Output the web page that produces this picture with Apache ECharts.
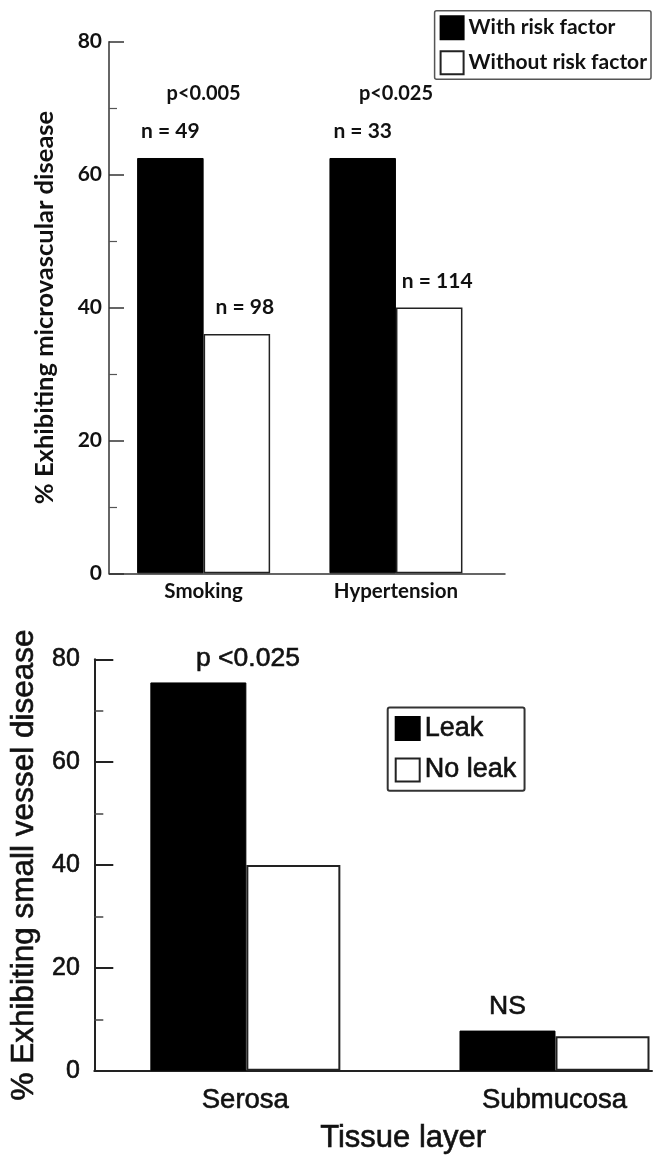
<!DOCTYPE html>
<html><head><meta charset="utf-8">
<script src="https://cdn.jsdelivr.net/npm/echarts@6/dist/echarts.min.js"></script>
<style>html,body{margin:0;padding:0;background:#fff}#c{width:654px;height:1159px}</style>
</head><body><div id="c"></div>
<script>
// ---- Top panel data ----
const topCategories = ['Smoking', 'Hypertension'];
const topWithRisk = [62.5, 62.5];
const topWithoutRisk = [36, 40];
const topNWith = ['n = 49', 'n = 33'];
const topNWithout = ['n = 98', 'n = 114'];
const topPValues = ['p<0.005', 'p<0.025'];
const topPLevel = 72.2;           // height (in % units) where the p-values are written
const topYTicks = [0, 20, 40, 60, 80];

// ---- Bottom panel data ----
const bottomCategories = ['Serosa', 'Submucosa'];
const bottomLeak = [75.5, 7.8];
const bottomNoLeak = [40, 6.7];
const bottomSig = ['p <0.025', 'NS'];
const bottomYTicks = [0, 20, 40, 60, 80];

const TOPF = 'Lato';
const BOTF = '"Liberation Sans", Arial, sans-serif';
const INK = '#111';
const thick = {textBorderColor: INK, textBorderWidth: 0.6};

const chart = echarts.init(document.getElementById('c'), null, {renderer: 'canvas'});

const xy = (arr) => arr.map((v, i) => [i + 1, v]);

const option = {
  backgroundColor: '#fff',
  animation: false,
  grid: [
    {left: 109, top: 41.7, width: 396, height: 531.6},
    {left: 94.3, top: 659.3, width: 557.7, height: 411.4}
  ],
  legend: [
    {
      data: ['With risk factor', 'Without risk factor'],
      orient: 'vertical', left: 434.6, top: 10.7,
      itemWidth: 23, itemHeight: 23, itemGap: 10, itemTextGap: 6,
      padding: [4.5, 4, 4, 5],
      borderColor: '#555', borderWidth: 1.5, borderRadius: 2,
      icon: 'rect',
      textStyle: {fontFamily: TOPF, fontWeight: 'bold', fontSize: 21, color: INK}
    },
    {
      data: ['Leak', 'No leak'],
      orient: 'vertical', left: 387.7, top: 707.6,
      itemWidth: 24, itemHeight: 23, itemGap: 14, itemTextGap: 13,
      padding: [7, 8, 7, 7],
      borderColor: '#333', borderWidth: 2, borderRadius: 2,
      icon: 'rect',
      textStyle: Object.assign({fontFamily: BOTF, fontSize: 27, color: INK}, thick)
    }
  ],
  xAxis: [
    {
      type: 'value', gridIndex: 0, min: 0.508, max: 2.567,
      axisLine: {show: true, onZero: false, lineStyle: {color: '#333', width: 1.5}},
      axisTick: {show: false}, splitLine: {show: false},
      axisLabel: {
        customValues: [1, 2], margin: 8,
        formatter: (v) => topCategories[Math.round(v) - 1],
        fontFamily: TOPF, fontWeight: 'bold', fontSize: 20.5, color: INK
      }
    },
    {
      type: 'value', gridIndex: 1, min: 0.5114, max: 2.3154,
      name: 'Tissue layer', nameLocation: 'middle', nameGap: 52,
      nameTextStyle: Object.assign({fontFamily: BOTF, fontSize: 31, color: INK, padding: [0, 0, 0, 60]}, thick),
      axisLine: {show: true, onZero: false, lineStyle: {color: '#222', width: 2}},
      axisTick: {show: false}, splitLine: {show: false},
      axisLabel: Object.assign({
        customValues: [1, 2], margin: 16,
        formatter: (v) => bottomCategories[Math.round(v) - 1],
        fontFamily: BOTF, fontSize: 27.5, color: INK
      }, thick)
    }
  ],
  yAxis: [
    {
      type: 'value', gridIndex: 0, min: 0, max: 80, interval: 20,
      name: '% Exhibiting microvascular disease', nameLocation: 'middle', nameGap: 51,
      nameTextStyle: {fontFamily: TOPF, fontWeight: 'bold', fontSize: 25.5, color: INK},
      axisLine: {show: true, onZero: false, lineStyle: {color: '#333', width: 1.5}},
      axisTick: {show: true, inside: true, length: 15, lineStyle: {color: '#333', width: 1.5}},
      minorTick: {show: true, splitNumber: 2, length: 8, lineStyle: {color: '#555', width: 1.2}},
      splitLine: {show: false}, minorSplitLine: {show: false},
      axisLabel: {
        customValues: topYTicks, margin: 7,
        fontFamily: TOPF, fontWeight: 'bold', fontSize: 21, color: INK
      }
    },
    {
      type: 'value', gridIndex: 1, min: 0, max: 80, interval: 20,
      name: '% Exhibiting small vessel disease', nameLocation: 'middle', nameGap: 49.5,
      nameTextStyle: Object.assign({fontFamily: BOTF, fontSize: 31.5, color: INK}, thick),
      axisLine: {show: true, onZero: false, lineStyle: {color: '#222', width: 2}},
      axisTick: {show: true, inside: true, length: 19, lineStyle: {color: '#222', width: 2}},
      minorTick: {show: true, splitNumber: 2, length: 9, lineStyle: {color: '#444', width: 1.5}},
      splitLine: {show: false}, minorSplitLine: {show: false},
      axisLabel: Object.assign({
        customValues: bottomYTicks, margin: 14.5,
        fontFamily: BOTF, fontSize: 25, color: INK
      }, thick)
    }
  ],
  series: [
    {
      name: 'With risk factor', type: 'bar', xAxisIndex: 0, yAxisIndex: 0,
      data: xy(topWithRisk), barWidth: 66.5, barGap: '0%',
      itemStyle: {color: '#000', borderColor: '#000', borderWidth: 1},
      label: {
        show: true, position: 'top', distance: 16,
        formatter: (p) => topNWith[p.dataIndex],
        fontFamily: TOPF, fontWeight: 'bold', fontSize: 21, color: INK
      }
    },
    {
      name: 'Without risk factor', type: 'bar', xAxisIndex: 0, yAxisIndex: 0,
      data: xy(topWithoutRisk), barWidth: 66.5, barGap: '0%',
      itemStyle: {color: '#fff', borderColor: '#222', borderWidth: 1.5},
      label: {
        show: true, position: 'top', distance: 16, offset: [8, 0],
        formatter: (p) => topNWithout[p.dataIndex],
        fontFamily: TOPF, fontWeight: 'bold', fontSize: 21, color: INK
      }
    },
    {
      name: 'p-values', type: 'scatter', xAxisIndex: 0, yAxisIndex: 0,
      data: topPValues.map((p, i) => [i + 1, topPLevel]),
      symbolSize: 0, silent: true,
      itemStyle: {opacity: 1},
      label: {
        show: true, position: 'inside',
        formatter: (p) => topPValues[p.dataIndex],
        fontFamily: TOPF, fontWeight: 'bold', fontSize: 20, color: INK
      }
    },
    {
      name: 'Leak', type: 'bar', xAxisIndex: 1, yAxisIndex: 1,
      data: xy(bottomLeak).map((d, i) => i === 0
        ? {value: d, label: {offset: [49.6, 0]}}
        : {value: d}),
      barWidth: 96, barGap: '0%',
      itemStyle: {color: '#000', borderColor: '#000', borderWidth: 1},
      label: Object.assign({
        show: true, position: 'top', distance: 10,
        formatter: (p) => bottomSig[p.dataIndex],
        fontFamily: BOTF, fontSize: 26.5, color: INK
      }, thick)
    },
    {
      name: 'No leak', type: 'bar', xAxisIndex: 1, yAxisIndex: 1,
      data: xy(bottomNoLeak), barWidth: 94, barGap: '0%',
      itemStyle: {color: '#fff', borderColor: '#222', borderWidth: 2}
    }
  ]
};
chart.setOption(option);
</script>
</body></html>
